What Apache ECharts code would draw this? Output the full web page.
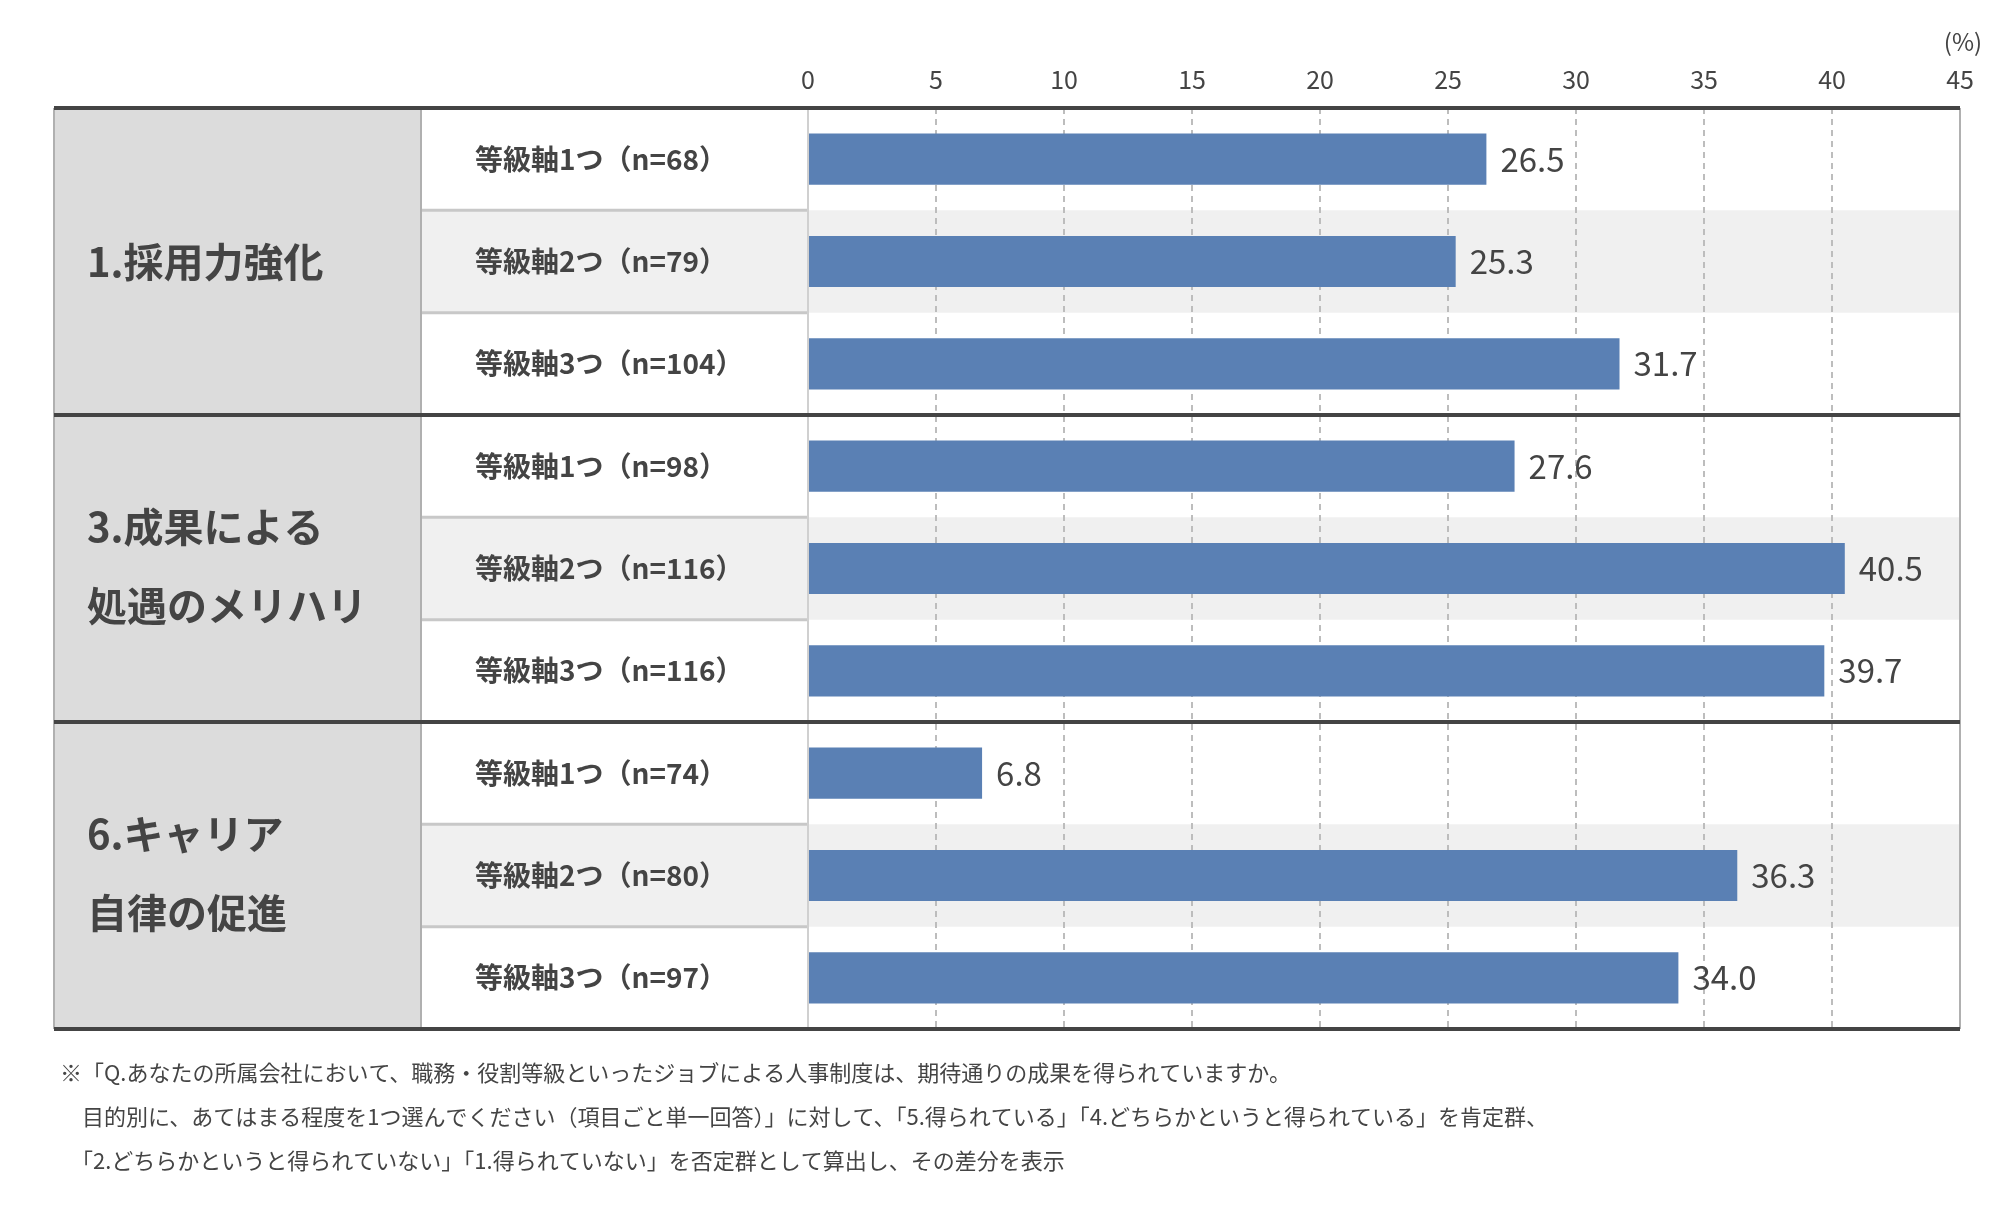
<!DOCTYPE html>
<html>
<head>
<meta charset="UTF-8">
<title>chart</title>
<script src="https://cdn.jsdelivr.net/npm/echarts@6/dist/echarts.min.js"></script>
<style>
body { margin: 0; background: #fff; }
#main { width: 2009px; height: 1209px; }
</style>
</head>
<body>
<div id="main"></div>
<script type="text/javascript">
var groups = ['1.採用力強化', '3.成果による\n処遇のメリハリ', '6.キャリア\n自律の促進'];
var rowLabels = ['等級軸1つ（n=68）', '等級軸2つ（n=79）', '等級軸3つ（n=104）',
	'等級軸1つ（n=98）', '等級軸2つ（n=116）', '等級軸3つ（n=116）',
	'等級軸1つ（n=74）', '等級軸2つ（n=80）', '等級軸3つ（n=97）'];
var values = [26.5, 25.3, 31.7, 27.6, 40.5, 39.7, 6.8, 36.3, 34.0];
var xTicks = [0, 45, 5];
var notes = [
	'※「Q.あなたの所属会社において、職務・役割等級といったジョブによる人事制度は、期待通りの成果を得られていますか。',
	'　目的別に、あてはまる程度を1つ選んでください（項目ごと単一回答）」に対して、「5.得られている」「4.どちらかというと得られている」を肯定群、',
	'　「2.どちらかというと得られていない」「1.得られていない」を否定群として算出し、その差分を表示'
];

var font = '"Noto Sans CJK JP", "Noto Sans", sans-serif';
var L = 54, C2 = 421, P = 808, R = 1960, T = 108, B = 1029;
var rowH = (B - T) / rowLabels.length;

var chart = echarts.init(document.getElementById('main'));

var g = [];
// backgrounds
g.push({ type: 'rect', z: -10, shape: { x: L, y: T, width: C2 - L, height: B - T }, style: { fill: '#dcdcdc' } });
for (var i = 0; i < rowLabels.length; i++) {
	var y = T + i * rowH;
	if (i % 3 == 1) {
		g.push({ type: 'rect', z: -10, shape: { x: C2, y: y, width: R - C2, height: rowH }, style: { fill: '#f0f0f0' } });
	}
	if (i % 3 != 0) {
		g.push({ type: 'line', z: 5, shape: { x1: C2, y1: y, x2: P, y2: y }, style: { stroke: '#c8c8c8', lineWidth: 3 } });
	}
}
g.push({ type: 'line', z: 5, shape: { x1: C2, y1: T, x2: C2, y2: B }, style: { stroke: '#b0b0b0', lineWidth: 2 } });
g.push({ type: 'line', z: 5, shape: { x1: P, y1: T, x2: P, y2: B }, style: { stroke: '#d0d0d0', lineWidth: 2 } });
g.push({ type: 'line', z: 5, shape: { x1: R, y1: T, x2: R, y2: B }, style: { stroke: '#b0b0b0', lineWidth: 2 } });
g.push({ type: 'line', z: 5, shape: { x1: L, y1: T, x2: L, y2: B }, style: { stroke: '#b0b0b0', lineWidth: 2 } });
for (var k = 0; k <= groups.length; k++) {
	var gy = T + k * 3 * rowH;
	g.push({ type: 'line', z: 6, shape: { x1: L, y1: gy, x2: R, y2: gy }, style: { stroke: '#444', lineWidth: 4 } });
	if (k < groups.length) {
		var nLines = groups[k].split('\n').length;
		g.push({ type: 'text', z: 6, x: 87, y: gy + 1.5 * rowH - (nLines == 1 ? 0 : 2),
			style: { text: groups[k], font: 'bold 40px ' + font, fill: '#444', lineHeight: 79, verticalAlign: 'middle' } });
	}
}
g.push({ type: 'text', x: 1963, y: 42, style: { text: '(%)', font: '24px ' + font, fill: '#444', align: 'center', verticalAlign: 'middle' } });
for (var n = 0; n < notes.length; n++) {
	g.push({ type: 'text', x: 60, y: 1073 + n * 44, style: { text: notes[n], font: '22px ' + font, fill: '#444', verticalAlign: 'middle' } });
}

chart.setOption({
	textStyle: { fontFamily: font },
	animation: false,
	grid: { left: P, right: 2009 - R, top: T, bottom: 1209 - B, containLabel: false },
	xAxis: {
		type: 'value', position: 'top', min: xTicks[0], max: xTicks[1], interval: xTicks[2],
		axisLine: { show: false }, axisTick: { show: false },
		axisLabel: { fontSize: 25, color: '#444', margin: 16 },
		splitLine: { lineStyle: { type: [6, 5], color: '#bdbdbd', width: 2 } }
	},
	yAxis: {
		type: 'category', inverse: true, data: rowLabels,
		axisLine: { show: false }, axisTick: { show: false },
		axisLabel: { align: 'left', margin: P - 475, fontSize: 28, fontWeight: 'bold', color: '#444' }
	},
	series: [{
		type: 'bar', data: values, barWidth: '50%',
		itemStyle: { color: '#5a80b4' },
		label: { show: true, position: 'right', distance: 14, fontSize: 33, color: '#444',
			formatter: function (p) { return p.value.toFixed(1); } }
	}],
	graphic: g
});
</script>
</body>
</html>
